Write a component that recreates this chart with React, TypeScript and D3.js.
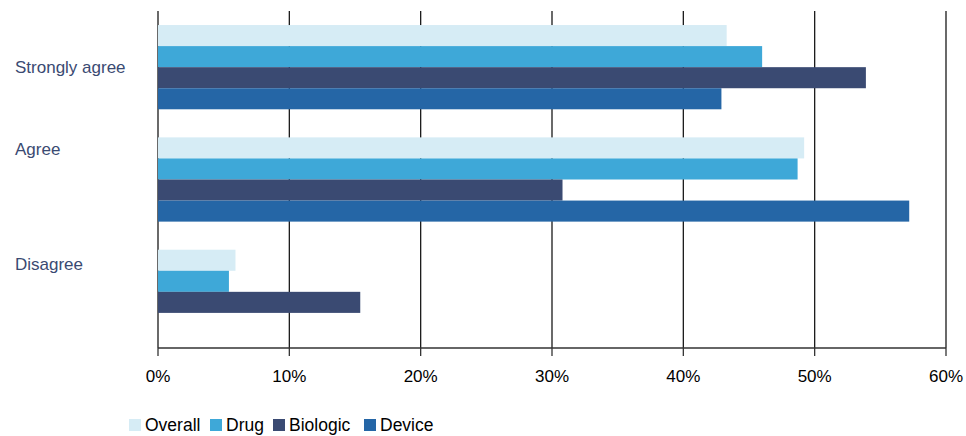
import React from "react";
import * as d3 from "d3";

const categories = ["Strongly agree", "Agree", "Disagree"];
const seriesNames = ["Overall", "Drug", "Biologic", "Device"];
const overall = [43.3, 49.2, 5.9];
const drug = [46.0, 48.7, 5.4];
const biologic = [53.9, 30.8, 15.4];
const device = [42.9, 57.2, 0];
const colors = ["#d6ecf5", "#3ea8d8", "#3a4a72", "#2566a6"];
const ticks = [0, 10, 20, 30, 40, 50, 60];
const labelOffsets = [0.5, 0.14, 0.17];

export default function App() {
  const W = 966, H = 436;
  const left = 158, right = 946, top = 11, bottom = 348;
  const series = [overall, drug, biologic, device];
  const x = d3.scaleLinear().domain([0, 60]).range([left, right]);
  const y = d3.scaleBand<string>().domain(categories).range([top, bottom]).paddingInner(0.25).paddingOuter(0.125);
  const y1 = d3.scaleBand<string>().domain(seriesNames).range([0, y.bandwidth()]);
  const font = "'Liberation Sans', Arial, sans-serif";
  const legendX = [129, 210, 273, 364];
  return (
    <svg width={W} height={H} style={{ position: "absolute", left: 0, top: 0 }}>
      {ticks.map((t) => (
        <line key={"g" + t} x1={x(t)} x2={x(t)} y1={top} y2={bottom} stroke="#1a1a1a" strokeWidth={1.3} />
      ))}
      {categories.map((c, ci) =>
        seriesNames.map((s, si) => (
          <rect key={c + s} x={x(0)} y={(y(c) as number) + (y1(s) as number)} width={x(series[si][ci]) - x(0)} height={y1.bandwidth()} fill={colors[si]} />
        ))
      )}
      <line x1={left} x2={right} y1={bottom} y2={bottom} stroke="#333" strokeWidth={1.3} />
      {ticks.map((t) => (
        <g key={"t" + t}>
          <line x1={x(t)} x2={x(t)} y1={bottom} y2={bottom + 8} stroke="#333" strokeWidth={1.3} />
          <text x={x(t)} y={bottom + 34} textAnchor="middle" fontFamily={font} fontSize={17} fill="#000">{t}%</text>
        </g>
      ))}
      {categories.map((c, ci) => (
        <text key={"l" + c} x={15} y={(y(c) as number) + y.bandwidth() * labelOffsets[ci]} dy="0.35em" fontFamily={font} fontSize={17} fill="#3a4a72">{c}</text>
      ))}
      {seriesNames.map((s, si) => (
        <g key={"lg" + s}>
          <rect x={legendX[si]} y={419} width={12} height={12} fill={colors[si]} />
          <text x={legendX[si] + 16} y={431} fontFamily={font} fontSize={17.5} fill="#000">{s}</text>
        </g>
      ))}
    </svg>
  );
}
